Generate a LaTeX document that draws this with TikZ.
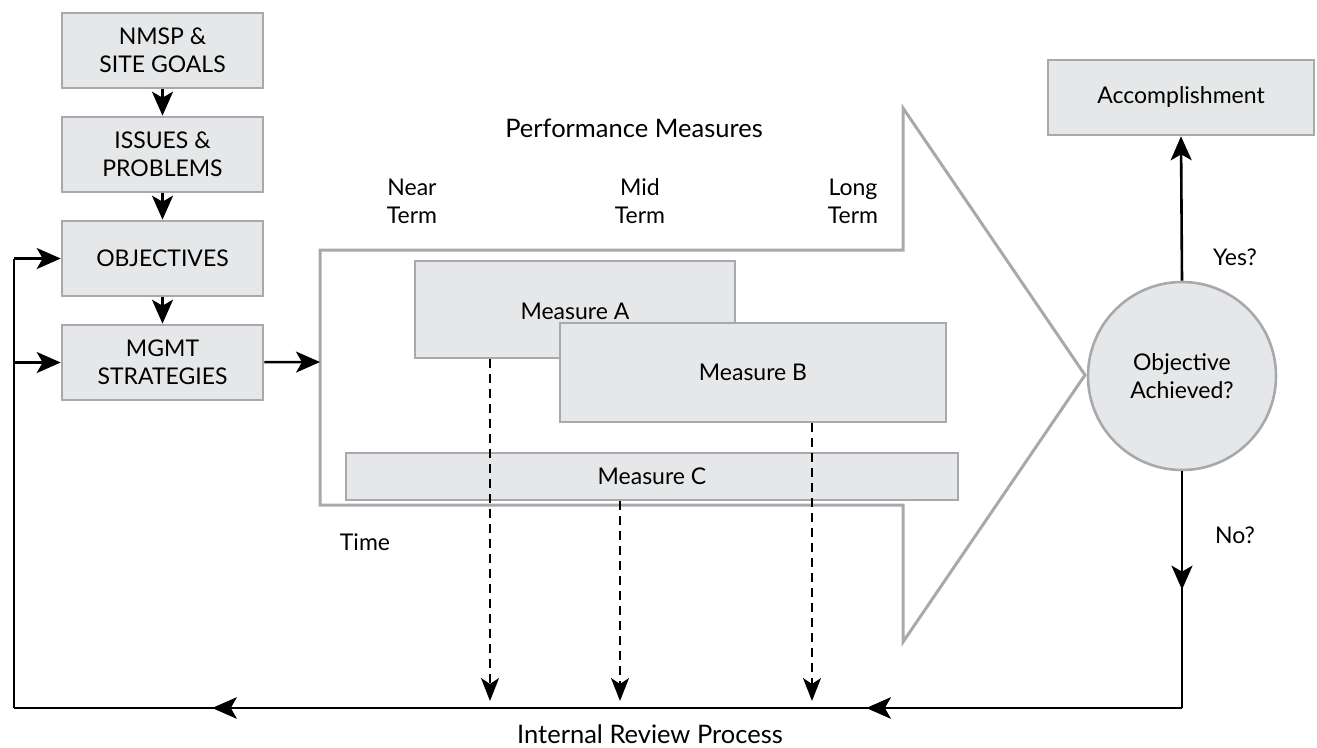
\documentclass[tikz,border=0pt]{standalone}
\usepackage{fontspec}
\setmainfont{Lato}
\usetikzlibrary{arrows.meta,decorations.markings}
\definecolor{boxfill}{HTML}{E6E7E8}
\definecolor{boxline}{HTML}{A7A9AC}
\begin{document}
\begin{tikzpicture}[x=1pt,y=-1pt,
  every node/.style={font=\fontsize{23}{28}\selectfont},
  biglabel/.style={font=\fontsize{25.5}{30}\selectfont},
  gbox/.style={draw=boxline,fill=boxfill,line width=2.6pt,inner sep=0pt,align=center},
  tip/.style={-{Stealth[length=24pt,width=21pt,inset=6pt]}},
  conn/.style={line width=2.6pt,tip},
  plain/.style={line width=2.6pt},
  dashconn/.style={line width=2.4pt,dash pattern=on 9pt off 6pt,-{Stealth[length=23pt,width=18pt,inset=6pt]}},
  midarrow/.style={postaction={decorate},decoration={markings,
     mark=at position #1 with {\arrow{Stealth[length=24pt,width=21pt,inset=6pt]}}}}
]
\useasboundingbox (0,0) rectangle (1317,747);

% big arrow
\draw[boxline,line width=3pt,line join=miter] (320,250) -- (903,250) -- (903,108) -- (1085,375) -- (903,642) -- (903,505) -- (320,505) -- cycle;
\coordinate (bigin) at (320,362);

% left column
\node[gbox,minimum width=201pt,minimum height=75pt] (goals) at (162.5,50.5) {NMSP \&\\SITE GOALS};
\node[gbox,minimum width=201pt,minimum height=75pt] (issues) at (162.5,154.5) {ISSUES \&\\PROBLEMS};
\node[gbox,minimum width=201pt,minimum height=75pt] (obj) at (162.5,258.5) {OBJECTIVES};
\node[gbox,minimum width=201pt,minimum height=75pt] (mgmt) at (162.5,362.5) {MGMT\\STRATEGIES};

\draw[conn] (goals) -- (issues);
\draw[conn] (issues) -- (obj);
\draw[conn] (obj) -- (mgmt);
\draw[conn] (mgmt) -- (bigin);

% measures
\node[gbox,minimum width=320pt,minimum height=97pt] (mA) at (575,309.5) {};
\node at (575,311) {Measure A};
\node[gbox,minimum width=386pt,minimum height=99pt] (mB) at (753,372.5) {Measure B};
\node[gbox,minimum width=612pt,minimum height=47pt] (mC) at (652,476.5) {Measure C};

\node[biglabel] (pm) at (634,128) {Performance Measures};
\node[align=center] (near) at (412,201) {Near\\Term};
\node[align=center] (mid) at (640,201) {Mid\\Term};
\node[align=center] (long) at (853,201) {Long\\Term};
\node (time) at (365,542) {Time};

% right side
\node[gbox,minimum width=266pt,minimum height=75pt] (acc) at (1181,97.5) {Accomplishment};
\node[gbox,circle,minimum size=188pt] (circ) at (1182,376) {Objective\\Achieved?};
\node (yes) at (1235,257) {Yes?};
\node (no) at (1235,535) {No?};

\draw[conn] (circ.north) -- (acc.south);

% bottom loop
\coordinate (br) at (1182,708);
\coordinate (bl) at (14,708);
\coordinate (lo) at (14,258.5);
\coordinate (lm) at (14,362.5);
\draw[plain,midarrow=0.5] (circ.south) -- (br);
\draw[plain,midarrow=0.27,midarrow=0.83] (br) -- (bl);
\draw[plain] (bl) -- (lo);
\draw[conn] (lo) -- (obj.west);
\draw[conn] (lm) -- (mgmt.west);

% dashed arrows
\coordinate (dA) at (490,701);
\coordinate (dC) at (620,701);
\coordinate (dB) at (812,701);
\draw[dashconn] (mA.south -| dA) -- (dA);
\draw[dashconn] (mC.south -| dC) -- (dC);
\draw[dashconn] (mB.south -| dB) -- (dB);

\node[biglabel,anchor=base,inner sep=0pt] (irp) at (650,743) {Internal Review Process};
\end{tikzpicture}
\end{document}
